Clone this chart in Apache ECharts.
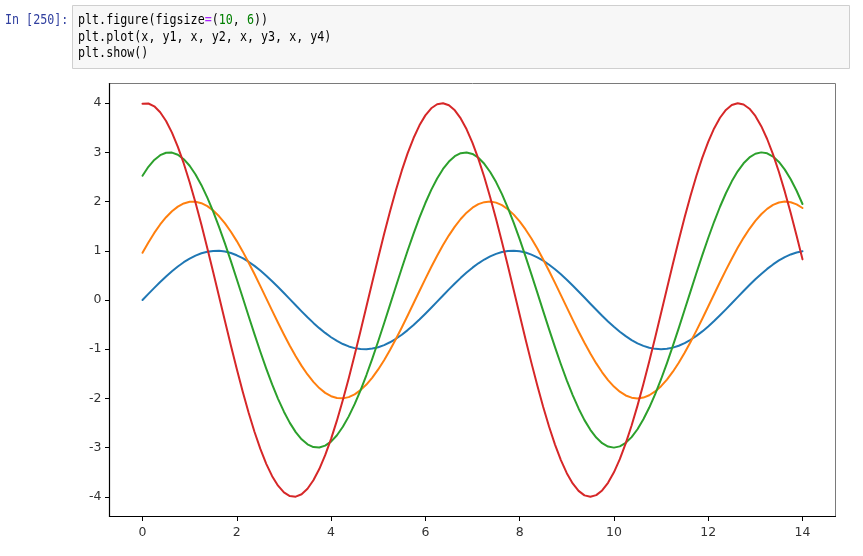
<!DOCTYPE html>
<html>
<head>
<meta charset="utf-8">
<script src="https://cdn.jsdelivr.net/npm/echarts@6/dist/echarts.min.js"></script>
<style>
  html, body { margin: 0; padding: 0; background: #ffffff; }
  #chart { width: 863px; height: 556px; }
</style>
</head>
<body>
<div id="chart"></div>
<script>
// x sample positions (0 .. 14, step 0.125)
const x = [0, 0.125, 0.25, 0.375, 0.5, 0.625, 0.75, 0.875, 1, 1.125, 1.25, 1.375, 1.5, 1.625, 1.75, 1.875,
  2, 2.125, 2.25, 2.375, 2.5, 2.625, 2.75, 2.875, 3, 3.125, 3.25, 3.375, 3.5, 3.625, 3.75, 3.875,
  4, 4.125, 4.25, 4.375, 4.5, 4.625, 4.75, 4.875, 5, 5.125, 5.25, 5.375, 5.5, 5.625, 5.75, 5.875,
  6, 6.125, 6.25, 6.375, 6.5, 6.625, 6.75, 6.875, 7, 7.125, 7.25, 7.375, 7.5, 7.625, 7.75, 7.875,
  8, 8.125, 8.25, 8.375, 8.5, 8.625, 8.75, 8.875, 9, 9.125, 9.25, 9.375, 9.5, 9.625, 9.75, 9.875,
  10, 10.125, 10.25, 10.375, 10.5, 10.625, 10.75, 10.875, 11, 11.125, 11.25, 11.375, 11.5, 11.625, 11.75, 11.875,
  12, 12.125, 12.25, 12.375, 12.5, 12.625, 12.75, 12.875, 13, 13.125, 13.25, 13.375, 13.5, 13.625, 13.75, 13.875, 14];

const y1 = [0, 0.125, 0.247, 0.366, 0.479, 0.585, 0.682, 0.768, 0.841, 0.902,
  0.949, 0.981, 0.997, 0.999, 0.984, 0.954, 0.909, 0.850, 0.778, 0.694,
  0.598, 0.494, 0.382, 0.264, 0.141, 0.017, -0.108, -0.231, -0.351, -0.465,
  -0.572, -0.669, -0.757, -0.832, -0.895, -0.944, -0.978, -0.996, -0.999, -0.987,
  -0.959, -0.916, -0.859, -0.788, -0.706, -0.612, -0.508, -0.397, -0.279, -0.158,
  -0.033, 0.092, 0.215, 0.335, 0.450, 0.558, 0.657, 0.746, 0.823, 0.888,
  0.938, 0.974, 0.995, 1.000, 0.989, 0.964, 0.923, 0.867, 0.799, 0.717,
  0.625, 0.523, 0.412, 0.295, 0.174, 0.050, -0.075, -0.199, -0.320, -0.435,
  -0.544, -0.644, -0.735, -0.814, -0.880, -0.932, -0.970, -0.993, -1.000, -0.992,
  -0.968, -0.929, -0.876, -0.808, -0.729, -0.638, -0.537, -0.427, -0.311, -0.190,
  -0.066, 0.059, 0.183, 0.304, 0.420, 0.530, 0.632, 0.723, 0.804, 0.872,
  0.926, 0.966, 0.991];

const y2 = [0.959, 1.170, 1.363, 1.535, 1.683, 1.805, 1.898, 1.962, 1.995, 1.997,
  1.968, 1.908, 1.819, 1.701, 1.556, 1.387, 1.197, 0.988, 0.763, 0.527,
  0.282, 0.033, -0.216, -0.463, -0.702, -0.930, -1.143, -1.339, -1.514, -1.665,
  -1.790, -1.887, -1.955, -1.992, -1.999, -1.974, -1.918, -1.832, -1.718, -1.577,
  -1.411, -1.223, -1.017, -0.794, -0.559, -0.315, -0.066, 0.183, 0.430, 0.670,
  0.900, 1.116, 1.314, 1.492, 1.646, 1.775, 1.876, 1.948, 1.989, 2.000,
  1.979, 1.927, 1.845, 1.735, 1.597, 1.434, 1.249, 1.045, 0.824, 0.591,
  0.348, 0.099, -0.150, -0.398, -0.639, -0.870, -1.088, -1.289, -1.469, -1.627,
  -1.759, -1.864, -1.940, -1.985, -2.000, -1.983, -1.936, -1.858, -1.751, -1.617,
  -1.457, -1.275, -1.073, -0.854, -0.622, -0.380, -0.133, 0.117, 0.365, 0.608,
  0.840, 1.060, 1.263, 1.447, 1.608, 1.743, 1.852, 1.932, 1.981, 2.000,
  1.987, 1.944, 1.870];

const y3 = [2.525, 2.707, 2.847, 2.943, 2.993, 2.996, 2.952, 2.862, 2.728, 2.551,
  2.334, 2.081, 1.796, 1.482, 1.145, 0.791, 0.423, 0.050, -0.325, -0.694,
  -1.052, -1.394, -1.715, -2.008, -2.270, -2.497, -2.685, -2.831, -2.933, -2.989,
  -2.998, -2.960, -2.877, -2.748, -2.577, -2.365, -2.117, -1.835, -1.525, -1.191,
  -0.838, -0.473, -0.100, 0.275, 0.645, 1.006, 1.350, 1.674, 1.971, 2.238,
  2.469, 2.663, 2.814, 2.922, 2.984, 2.999, 2.968, 2.891, 2.768, 2.602,
  2.396, 2.152, 1.874, 1.568, 1.236, 0.886, 0.522, 0.149, -0.226, -0.597,
  -0.959, -1.305, -1.632, -1.933, -2.204, -2.441, -2.639, -2.796, -2.910, -2.978,
  -3.000, -2.975, -2.903, -2.787, -2.627, -2.425, -2.186, -1.913, -1.610, -1.282,
  -0.933, -0.571, -0.199, 0.176, 0.548, 0.911, 1.261, 1.590, 1.895, 2.170,
  2.411, 2.615, 2.778, 2.897, 2.972, 3.000, 2.981, 2.915, 2.805, 2.650,
  2.454, 2.220, 1.951];

const y4 = [3.990, 3.994, 3.936, 3.816, 3.637, 3.401, 3.112, 2.775, 2.394, 1.976,
  1.527, 1.054, 0.564, 0.066, -0.433, -0.925, -1.403, -1.859, -2.286, -2.678,
  -3.027, -3.330, -3.580, -3.774, -3.910, -3.985, -3.997, -3.947, -3.836, -3.664,
  -3.436, -3.154, -2.822, -2.447, -2.033, -1.588, -1.118, -0.630, -0.133, 0.367,
  0.860, 1.341, 1.800, 2.232, 2.628, 2.984, 3.292, 3.550, 3.752, 3.896,
  3.978, 3.999, 3.958, 3.854, 3.690, 3.469, 3.194, 2.869, 2.499, 2.090,
  1.648, 1.181, 0.696, 0.199, -0.301, -0.796, -1.278, -1.740, -2.176, -2.577,
  -2.938, -3.254, -3.519, -3.728, -3.880, -3.971, -4.000, -3.966, -3.871, -3.716,
  -3.502, -3.234, -2.915, -2.550, -2.146, -1.709, -1.244, -0.761, -0.265, 0.234,
  0.730, 1.215, 1.681, 2.120, 2.526, 2.893, 3.215, 3.487, 3.704, 3.863,
  3.962, 4.000, 3.974, 3.887, 3.740, 3.533, 3.272, 2.960, 2.601, 2.202,
  1.768, 1.307, 0.826];

const xTicks = [0, 2, 4, 6, 8, 10, 12, 14];
const yTicks = [-4, -3, -2, -1, 0, 1, 2, 3, 4];

const seriesNames = ['y1', 'y2', 'y3', 'y4'];
const seriesColors = ['#1f77b4', '#ff7f0e', '#2ca02c', '#d62728'];
const seriesValues = [y1, y2, y3, y4];

const chart = echarts.init(document.getElementById('chart'), null, { renderer: 'canvas' });

const GRID = { left: 109.5, top: 83.5, right: 27.5, bottom: 39.5 };
const tickFont = { color: '#333333', fontSize: 12.5, fontFamily: 'DejaVu Sans, sans-serif' };
const monoFont = '13.5px "DejaVu Sans Mono", monospace';
const SX = 0.866;

const option = {
  backgroundColor: '#ffffff',
  animation: false,
  grid: Object.assign({ show: true, borderColor: '#7a7a7a', borderWidth: 1, backgroundColor: '#ffffff' }, GRID),
  xAxis: {
    type: 'value',
    min: -0.7,
    max: 14.7,
    splitLine: { show: false },
    axisLine: { show: true, onZero: false, lineStyle: { color: '#000000', width: 1.2 } },
    axisTick: { show: true, customValues: xTicks, length: 4.5, lineStyle: { color: '#000000', width: 1 } },
    axisLabel: Object.assign({ customValues: xTicks, margin: 10 }, tickFont)
  },
  yAxis: {
    type: 'value',
    min: -4.4,
    max: 4.4,
    splitLine: { show: false },
    axisLine: { show: true, onZero: false, lineStyle: { color: '#000000', width: 1.2 } },
    axisTick: { show: true, customValues: yTicks, length: 4.5, lineStyle: { color: '#000000', width: 1 } },
    axisLabel: Object.assign({ customValues: yTicks, margin: 8, formatter: v => String(v) }, tickFont)
  },
  series: seriesValues.map((vals, k) => ({
    name: seriesNames[k],
    type: 'line',
    data: x.map((xv, i) => [xv, vals[i]]),
    showSymbol: false,
    symbol: 'none',
    smooth: false,
    clip: true,
    lineStyle: { color: seriesColors[k], width: 2, join: 'round', cap: 'round' },
    itemStyle: { color: seriesColors[k] },
    emphasis: { disabled: true }
  })),
  graphic: [
    {
      type: 'text', x: 5, y: 20.7, scaleX: SX,
      style: { text: 'In [250]:', font: monoFont, fill: '#303F9F', verticalAlign: 'middle' }
    },
    {
      type: 'rect', shape: { x: 72.5, y: 5.5, width: 777, height: 63 },
      style: { fill: '#f7f7f7', stroke: '#cfcfcf', lineWidth: 1 }
    },
    {
      type: 'text', x: 78, y: 20.7, scaleX: SX,
      style: {
        text: 'plt.figure(figsize{eq|=}({num|10}, {num|6}))',
        font: monoFont, fill: '#000000', verticalAlign: 'middle',
        rich: {
          eq: { fill: '#AA22FF', font: monoFont },
          num: { fill: '#008000', font: monoFont }
        }
      }
    },
    {
      type: 'text', x: 78, y: 37, scaleX: SX,
      style: { text: 'plt.plot(x, y1, x, y2, x, y3, x, y4)', font: monoFont, fill: '#000000', verticalAlign: 'middle' }
    },
    {
      type: 'text', x: 78, y: 53.3, scaleX: SX,
      style: { text: 'plt.show()', font: monoFont, fill: '#000000', verticalAlign: 'middle' }
    }
  ]
};

chart.setOption(option);
</script>
</body>
</html>
